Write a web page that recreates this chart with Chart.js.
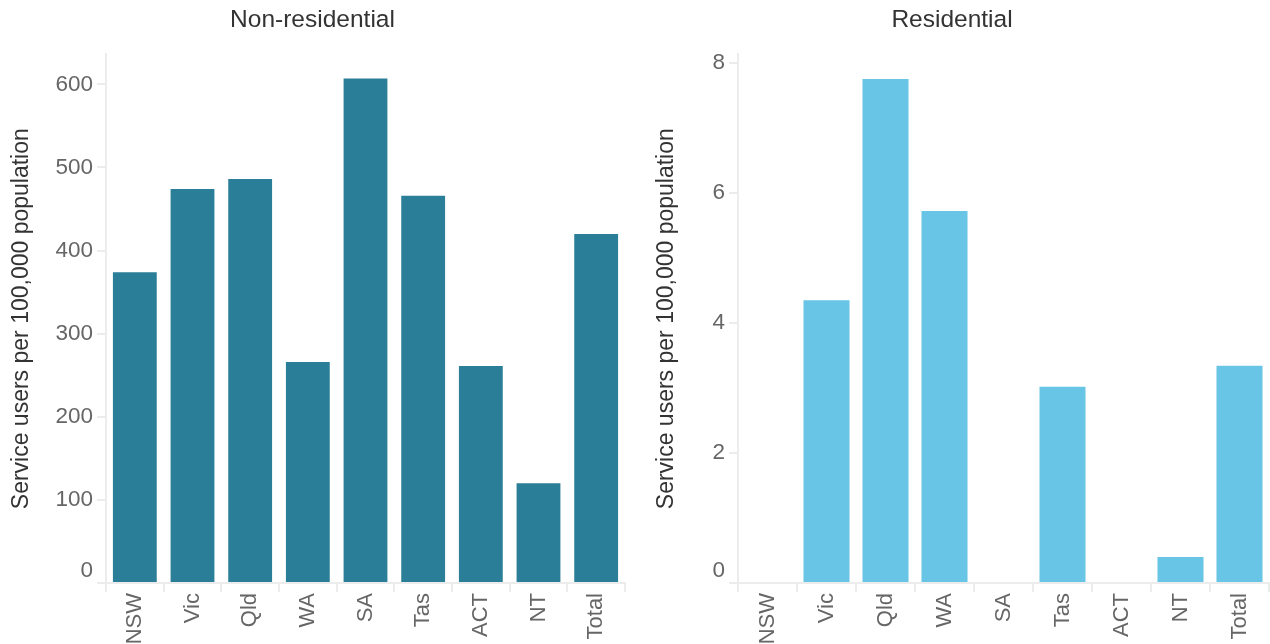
<!DOCTYPE html>
<html>
<head>
<meta charset="utf-8">
<script src="https://cdn.jsdelivr.net/npm/chart.js@4"></script>
<style>
	html, body { margin: 0; padding: 0; background: #fff; }
	.wrap { display: flex; width: 1270px; height: 644px; overflow: hidden; }
	canvas { display: block; }
</style>
</head>
<body>
<div class="wrap">
	<canvas id="nonres" width="635" height="644"></canvas>
	<canvas id="res" width="635" height="644"></canvas>
</div>
<script>
var categories = [ 'NSW', 'Vic', 'Qld', 'WA', 'SA', 'Tas', 'ACT', 'NT', 'Total' ];
var nonResidential = [ 374, 474, 486, 266, 607, 466, 261, 120, 420 ];
var residential = [ 0, 4.35, 7.75, 5.72, 0, 3.02, 0, 0.4, 3.34 ];
var nonResTicks = [ 0, 100, 200, 300, 400, 500, 600 ];
var resTicks = [ 0, 2, 4, 6, 8 ];

var FONT = '"Liberation Sans", Arial, sans-serif';
var lineColor = '#ececec';

function buildChart( canvasId, opts ) {
	var ctx = document.getElementById( canvasId ).getContext( '2d' );
	return new Chart( ctx, {
		type: 'bar',
		data: {
			labels: categories,
			datasets: [ {
				label: opts.title,
				data: opts.data,
				backgroundColor: opts.color,
				borderWidth: 0,
				barPercentage: opts.barPct,
				categoryPercentage: 1,
			} ],
		},
		options: {
			responsive: false,
			animation: false,
			devicePixelRatio: 1,
			layout: { padding: { left: 0, right: opts.padRight, top: 0, bottom: 0 } },
			plugins: {
				legend: { display: false },
				tooltip: { enabled: false },
				title: {
					display: true,
					text: opts.title,
					color: '#333',
					font: { family: FONT, size: 24.5, weight: 'normal' },
					padding: { top: 6, bottom: 19 },
				},
			},
			scales: {
				x: {
					grid: {
						display: true,
						drawOnChartArea: false,
						drawTicks: true,
						tickLength: 9,
						color: lineColor,
						lineWidth: 2,
					},
					border: { display: true, color: lineColor, width: 2 },
					ticks: {
						color: '#666',
						font: { family: FONT, size: 22 },
						minRotation: 90,
						maxRotation: 90,
						autoSkip: false,
						padding: 1,
					},
					afterFit: function ( scale ) { scale.height = 61; },
				},
				y: {
					min: 0,
					max: opts.max,
					grid: {
						display: true,
						drawOnChartArea: false,
						drawTicks: true,
						tickLength: 9,
						color: lineColor,
						lineWidth: 2,
					},
					border: { display: true, color: lineColor, width: 2 },
					ticks: {
						color: '#666',
						font: { family: FONT, size: 22.5, lineHeight: 1.1 },
						padding: 4,
						// the baseline label sits a little above its tick, as in the source
						callback: function ( value ) {
							return value === 0 ? [ '0', '' ] : String( value );
						},
					},
					afterBuildTicks: function ( scale ) {
						scale.ticks = opts.ticks.map( function ( v ) { return { value: v }; } );
					},
					afterFit: function ( scale ) { scale.width = opts.axisWidth; },
					title: {
						display: true,
						text: 'Service users per 100,000 population',
						color: '#333',
						font: { family: FONT, size: 23 },
						padding: { top: opts.titlePad, bottom: 0 },
					},
				},
			},
		},
	} );
}

buildChart( 'nonres', {
	title: 'Non-residential',
	data: nonResidential,
	color: '#2a7e97',
	max: 636,
	ticks: nonResTicks,
	axisWidth: 106,
	padRight: 10,
	titlePad: 8,
	barPct: 0.76,
} );

buildChart( 'res', {
	title: 'Residential',
	data: residential,
	color: '#68c5e6',
	max: 8.13,
	ticks: resTicks,
	axisWidth: 103,
	padRight: 1,
	titlePad: 18,
	barPct: 0.78,
} );
</script>
</body>
</html>
